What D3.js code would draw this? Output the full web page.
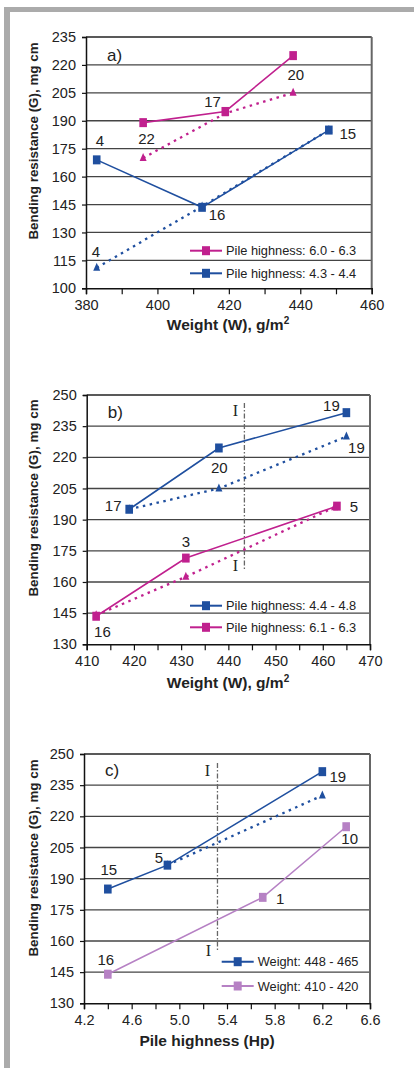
<!DOCTYPE html>
<html>
<head>
<meta charset="utf-8">
<script src="https://cdn.jsdelivr.net/npm/d3@7"></script>
<style>
  body { margin: 0; background: #fff; }
  svg { display: block; font-family: "Liberation Sans", Arial, sans-serif; }
</style>
</head>
<body>
<div id="chart"></div>
<script>
// ---- data ----
// a) weight vs bending resistance
const weightA_pink = [396, 419, 438];
const resistA_pink = [189, 195, 225];
const resistA_pinkDot = [170, 194, 205];
const labelsA_pink = ['22', '17', '20'];
const weightA_blue = [383, 412.5, 448];
const resistA_blue = [169, 143.5, 185];
const resistA_blueDot = [111, 144, 185];
const labelsA_blue = ['4', '16', '15'];
const labelsA_blueDot = ['4', '', ''];
const xTicksA = [380, 400, 420, 440, 460];
const yTicksA = [100, 115, 130, 145, 160, 175, 190, 205, 220, 235];

// b) weight vs bending resistance
const weightB_blue = [419, 438, 465];
const resistB_blue = [195, 224.5, 241.5];
const resistB_blueDot = [195, 205, 230];
const labelsB_blue = ['17', '', '19'];
const labelsB_blueDot = ['', '20', '19'];
const weightB_pink = [412, 431, 463];
const resistB_pink = [143.5, 171.5, 196.5];
const weightB_pinkDot = [412, 431, 462.5];
const resistB_pinkDot = [144, 162.5, 196];
const labelsB_pink = ['16', '3', '5'];
const xTicksB = [410, 420, 430, 440, 450, 460, 470];
const yTicksB = [130, 145, 160, 175, 190, 205, 220, 235, 250];

// c) pile highness vs bending resistance
const pileC_blue = [4.4, 4.9, 6.2];
const resistC_blue = [185, 196.5, 241.5];
const pileC_blueDot = [4.9, 6.2];
const resistC_blueDot = [196.5, 230];
const labelsC_blue = ['15', '5', '19'];
const pileC_lav = [4.4, 5.7, 6.4];
const resistC_lav = [144, 181, 215];
const labelsC_lav = ['16', '1', '10'];
const xTicksC = [4.2, 4.6, 5.0, 5.4, 5.8, 6.2, 6.6];
const yTicksC = [130, 145, 160, 175, 190, 205, 220, 235, 250];

const legendA = ['Pile highness: 6.0 - 6.3', 'Pile highness: 4.3 - 4.4'];
const legendB = ['Pile highness: 4.4 - 4.8', 'Pile highness: 6.1 - 6.3'];
const legendC = ['Weight: 448 - 465', 'Weight: 410 - 420'];
const lineIB = 443.4;
const lineIC = 5.32;

// ---- drawing ----
const W = 414, H = 1068;
const pink = '#c0208e', blue = '#1f4f9f', lav = '#b681c4';

const svg = d3.select('#chart').append('svg')
  .attr('width', W)
  .attr('height', H);

// gray frame
svg.append('rect').attr('x', 4).attr('y', 7).attr('width', 6).attr('height', H - 7).attr('fill', '#ababab');
svg.append('rect').attr('x', 4).attr('y', 7).attr('width', W - 4).attr('height', 5).attr('fill', '#ababab');

const zip = (xs, ys, ls) => xs.map((x, i) => ({ x, y: ys[i], label: ls ? ls[i] : '' }));

function panel(cfg) {
  const x = d3.scaleLinear().domain(cfg.xDomain).range(cfg.xRange);
  const y = d3.scaleLinear().domain(cfg.yDomain).range(cfg.yRange);
  const g = svg.append('g');
  const [x0, x1] = cfg.xRange, [y0, y1] = cfg.yRange;

  // grid
  g.selectAll('.grid')
    .data(cfg.yTicks.slice(1, -1))
    .join('line')
      .attr('x1', x0).attr('x2', x1)
      .attr('y1', d => y(d)).attr('y2', d => y(d))
      .attr('stroke', '#444').attr('stroke-width', 1.3);

  // frame top/right
  g.append('line').attr('x1', x0).attr('x2', x1).attr('y1', y1).attr('y2', y1)
    .attr('stroke', '#222').attr('stroke-width', 1.5);
  g.append('line').attr('x1', x1).attr('x2', x1).attr('y1', y1).attr('y2', y0)
    .attr('stroke', '#666').attr('stroke-width', 2);

  // axes
  const xAxis = d3.axisBottom(x).tickValues(cfg.minorTicks).tickSize(6)
    .tickFormat(d => cfg.xTicks.some(t => Math.abs(t - d) < 1e-9) ? cfg.fmt(d) : '')
    .tickPadding(5);
  const ax = g.append('g').attr('transform', `translate(0,${y0})`).call(xAxis);
  ax.select('.domain').attr('stroke', '#111').attr('stroke-width', 1.5);
  ax.selectAll('.tick line').attr('stroke', '#111').attr('stroke-width', 1.2);
  ax.selectAll('.tick text').attr('font-size', 14.5).attr('fill', '#222')
    .attr('font-family', '"Liberation Sans", Arial, sans-serif');

  const yAxis = d3.axisLeft(y).tickValues(cfg.yTicks).tickSize(4).tickPadding(6);
  const ay = g.append('g').attr('transform', `translate(${x0},0)`).call(yAxis);
  ay.select('.domain').attr('stroke', '#111').attr('stroke-width', 1.5);
  ay.selectAll('.tick line').attr('stroke', '#111').attr('stroke-width', 1.2);
  ay.selectAll('.tick text').attr('font-size', 14.5).attr('fill', '#222')
    .attr('font-family', '"Liberation Sans", Arial, sans-serif');

  // vertical "I" line
  if (cfg.iLine) {
    const v = cfg.iLine;
    g.append('line')
      .attr('x1', x(v.at)).attr('x2', x(v.at))
      .attr('y1', v.top).attr('y2', v.bottom)
      .attr('stroke', '#666').attr('stroke-width', 1.3)
      .attr('stroke-dasharray', '5,2,1.5,2');
    v.labels.forEach(p => {
      g.append('text').attr('x', x(v.at) + p[0]).attr('y', p[1])
        .attr('text-anchor', 'middle')
        .attr('font-family', '"Liberation Serif", "Times New Roman", serif')
        .attr('font-size', 16).attr('fill', '#222').text('I');
    });
  }

  const line = d3.line().x(d => x(d.x)).y(d => y(d.y));

  // dotted series
  cfg.dotted.forEach(s => {
    g.append('path').datum(s.pts)
      .attr('d', line).attr('fill', 'none')
      .attr('stroke', s.color).attr('stroke-width', 2.3)
      .attr('stroke-dasharray', '2.5,4.5');
    g.selectAll(null).data(s.pts).join('path')
      .attr('transform', d => `translate(${x(d.x)},${y(d.y)})`)
      .attr('d', 'M0,-5L3.5,3L-3.5,3Z')
      .attr('fill', s.color);
  });

  // solid series
  cfg.solid.forEach(s => {
    g.append('path').datum(s.pts)
      .attr('d', line).attr('fill', 'none')
      .attr('stroke', s.color).attr('stroke-width', s.width || 1.6);
    g.selectAll(null).data(s.pts).join('rect')
      .attr('x', d => x(d.x) - 3.8).attr('y', d => y(d.y) - 4.5)
      .attr('width', 7.6).attr('height', 9)
      .attr('fill', s.color);
  });

  // point labels
  cfg.labels.forEach(s => {
    s.pts.forEach((d, i) => {
      if (!d.label) return;
      const off = s.off[i];
      g.append('text')
        .attr('x', x(d.x) + off[0]).attr('y', y(d.y) + off[1])
        .attr('text-anchor', 'middle')
        .attr('font-size', 15).attr('fill', '#222')
        .text(d.label);
    });
  });

  // panel letter
  g.append('text').attr('x', x0 + 21).attr('y', cfg.letterY)
    .attr('font-size', 17).attr('fill', '#222').text(cfg.letter);

  // legend
  cfg.legend.forEach((name, i) => {
    const ly = cfg.legendPos[1] + i * cfg.legendStep;
    const lx = cfg.legendPos[0];
    g.append('line').attr('x1', lx).attr('x2', lx + 32).attr('y1', ly).attr('y2', ly)
      .attr('stroke', cfg.legendColors[i]).attr('stroke-width', 2);
    g.append('rect').attr('x', lx + 12).attr('y', ly - 4.5).attr('width', 8).attr('height', 9)
      .attr('fill', cfg.legendColors[i]);
    g.append('text').attr('x', lx + 36).attr('y', ly + 4.5)
      .attr('font-size', 12.8).attr('fill', '#222').text(name);
  });

  // axis titles
  g.append('text')
    .attr('transform', `translate(${cfg.yTitle[0]},${cfg.yTitle[1]}) rotate(-90)`)
    .attr('text-anchor', 'middle').attr('font-weight', 'bold')
    .attr('font-size', 13.4).attr('fill', '#222')
    .text('Bending resistance (G), mg cm');
  const xt = g.append('text')
    .attr('x', cfg.xTitle[0]).attr('y', cfg.xTitle[1])
    .attr('text-anchor', 'middle').attr('font-weight', 'bold')
    .attr('font-size', 15.5).attr('fill', '#222');
  if (cfg.squared) {
    xt.text('Weight (W), g/m');
    xt.append('tspan').attr('font-size', 10).attr('dy', -6).text('2');
  } else {
    xt.text(cfg.xTitleText);
  }
}

const range = (a, b, s) => d3.range(0, Math.round((b - a) / s) + 1).map(i => +(a + i * s).toFixed(3));

// a)
panel({
  xDomain: [380, 460], xRange: [86, 371.7],
  yDomain: [100, 235], yRange: [288.3, 37],
  xTicks: xTicksA, yTicks: yTicksA, minorTicks: range(380, 460, 10), fmt: d3.format('d'),
  dotted: [
    { color: pink, pts: zip(weightA_pink, resistA_pinkDot) },
    { color: blue, pts: zip(weightA_blue, resistA_blueDot) }
  ],
  solid: [
    { color: pink, pts: zip(weightA_pink, resistA_pink) },
    { color: blue, pts: zip(weightA_blue, resistA_blue) }
  ],
  labels: [
    { pts: zip(weightA_pink, resistA_pink, labelsA_pink), off: [[3.5, 21.7], [-12.7, -4.4], [2.7, 24]] },
    { pts: zip(weightA_blue, resistA_blue, labelsA_blue), off: [[3.3, -14], [15, 12.7], [19, 8.6]] },
    { pts: zip(weightA_blue, resistA_blueDot, labelsA_blueDot), off: [[-0.7, -11], [0, 0], [0, 0]] }
  ],
  letter: 'a)', letterY: 61,
  legend: legendA, legendColors: [pink, blue], legendPos: [190, 250.7], legendStep: 22.6,
  yTitle: [38, 141], xTitle: [228, 330], squared: true
});

// b)
panel({
  xDomain: [410, 470], xRange: [86.7, 370],
  yDomain: [130, 250], yRange: [644.3, 395],
  xTicks: xTicksB, yTicks: yTicksB, minorTicks: range(410, 470, 5), fmt: d3.format('d'),
  iLine: { at: lineIB, top: 403, bottom: 569, labels: [[-9, 416], [-9, 571]] },
  dotted: [
    { color: blue, pts: zip(weightB_blue, resistB_blueDot) },
    { color: pink, pts: zip(weightB_pinkDot, resistB_pinkDot) }
  ],
  solid: [
    { color: blue, pts: zip(weightB_blue, resistB_blue) },
    { color: pink, pts: zip(weightB_pink, resistB_pink) }
  ],
  labels: [
    { pts: zip(weightB_blue, resistB_blue, labelsB_blue), off: [[-16, 1.7], [0, 0], [-15, -1.6]] },
    { pts: zip(weightB_blue, resistB_blueDot, labelsB_blueDot), off: [[0, 0], [0.4, -15], [10, 16]] },
    { pts: zip(weightB_pink, resistB_pink, labelsB_pink), off: [[6.3, 20.6], [0, -11.4], [17, 5.4]] }
  ],
  letter: 'b)', letterY: 418,
  legend: legendB, legendColors: [blue, pink], legendPos: [190, 605.7], legendStep: 21.6,
  yTitle: [38, 498], xTitle: [228, 688], squared: true
});

// c)
panel({
  xDomain: [4.2, 6.6], xRange: [84, 370],
  yDomain: [130, 250], yRange: [1003.3, 754],
  xTicks: xTicksC, yTicks: yTicksC, minorTicks: range(4.2, 6.6, 0.2), fmt: d3.format('.1f'),
  iLine: { at: lineIC, top: 763, bottom: 950, labels: [[-10, 776], [-9, 956]] },
  dotted: [
    { color: blue, pts: zip(pileC_blueDot, resistC_blueDot) }
  ],
  solid: [
    { color: blue, pts: zip(pileC_blue, resistC_blue) },
    { color: lav, pts: zip(pileC_lav, resistC_lav), width: 1.5 }
  ],
  labels: [
    { pts: zip(pileC_blue, resistC_blue, labelsC_blue), off: [[1, -13.7], [-8.5, -2.6], [15.5, 10.7]] },
    { pts: zip(pileC_lav, resistC_lav, labelsC_lav), off: [[-2, -9.3], [17.4, 6.3], [3.5, 17.3]] }
  ],
  letter: 'c)', letterY: 776,
  legend: legendC, legendColors: [blue, lav], legendPos: [221.7, 961.7], legendStep: 24.3,
  yTitle: [38, 858], xTitle: [207, 1045.7], xTitleText: 'Pile highness (Hp)'
});
</script>
</body>
</html>
